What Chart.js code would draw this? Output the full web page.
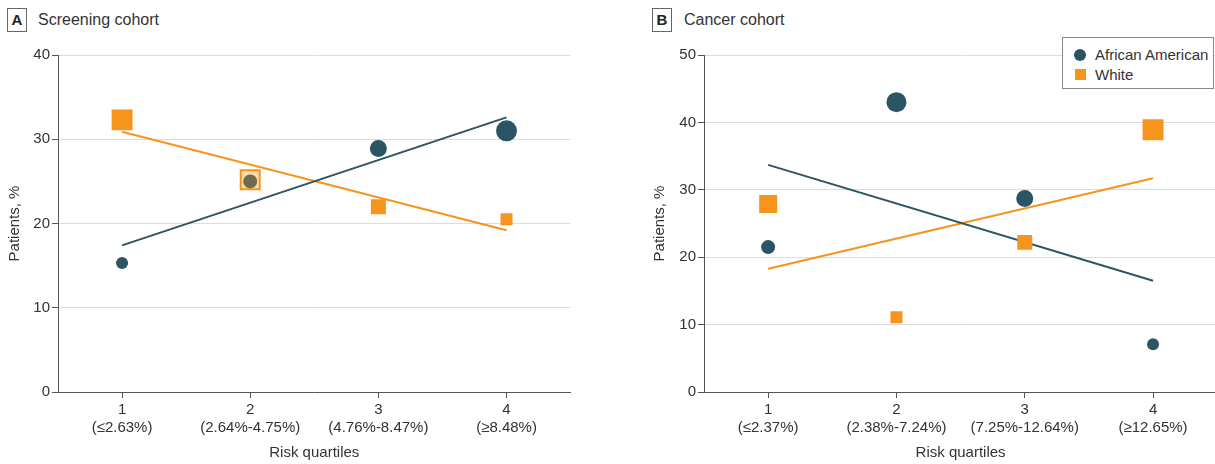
<!DOCTYPE html>
<html><head><meta charset="utf-8">
<script src="https://cdn.jsdelivr.net/npm/chart.js@4"></script>
<style>
body{margin:0;width:1215px;height:464px;background:#fff;position:relative;overflow:hidden;font-family:"Liberation Sans",Arial,sans-serif;color:#333}
.wrap{position:absolute;top:0;height:464px}
.plabel{position:absolute;top:8px;width:18px;height:22px;border:1px solid #666;font-weight:bold;font-size:15px;line-height:22px;text-align:center;color:#222}
.ptitle{position:absolute;top:9px;font-size:16px;line-height:22px;color:#333}
.legend{position:absolute;left:1062px;top:37px;width:152px;height:52px;border:1px solid #888;background:#fff;box-sizing:border-box}
.legend .it{position:absolute;left:32px;font-size:15px;line-height:18px;color:#333;white-space:nowrap}
.legend .dot{position:absolute;left:11px;top:11px;width:12px;height:12px;border-radius:50%;background:#2b5565}
.legend .sq{position:absolute;left:12px;top:31px;width:11px;height:11px;background:#f7941d}
</style></head>
<body>
<div class="plabel" style="left:7px">A</div>
<div class="ptitle" style="left:38px">Screening cohort</div>
<div class="plabel" style="left:652px">B</div>
<div class="ptitle" style="left:684px">Cancer cohort</div>
<div class="wrap" style="left:0;width:586px"><canvas id="cA"></canvas></div>
<div class="wrap" style="left:645px;width:587px"><canvas id="cB"></canvas></div>
<div class="legend">
  <div class="dot"></div><div class="it" style="top:8px">African American</div>
  <div class="sq"></div><div class="it" style="top:28px">White</div>
</div>
<script>
// ---- data ----
const quartiles = [1, 2, 3, 4];
const screeningTickLabels = [['1','(≤2.63%)'],['2','(2.64%-4.75%)'],['3','(4.76%-8.47%)'],['4','(≥8.48%)']];
const cancerTickLabels = [['1','(≤2.37%)'],['2','(2.38%-7.24%)'],['3','(7.25%-12.64%)'],['4','(≥12.65%)']];

const screeningAA = [15.3, 25.0, 28.9, 31.0];
const screeningWhite = [32.3, 25.2, 22.0, 20.5];
const screeningAATrend = [17.4, 32.6];
const screeningWhiteTrend = [30.9, 19.2];

const cancerAA = [21.5, 43.0, 28.7, 7.1];
const cancerWhite = [27.9, 11.1, 22.2, 38.9];
const cancerAATrend = [33.7, 16.5];
const cancerWhiteTrend = [18.3, 31.7];

// marker radii
const screeningAARadius = [6, 7, 8.5, 10.5];
const screeningWhiteRadius = [14.8, 13.4, 10.6, 8.5];
const cancerAARadius = [7, 10, 8.5, 6];
const cancerWhiteRadius = [12.7, 8.5, 10.6, 14.8];

// ---- styling ----
const TEAL = '#2b5565', ORANGE = '#f7941d', ORANGE_LIGHT = 'rgba(247,148,29,0.35)';
Chart.defaults.font.family = "'Liberation Sans', Arial, sans-serif";
Chart.defaults.font.size = 15;
Chart.defaults.color = '#333';

function pts(vals){ return quartiles.map((q,i)=>({x:q, y:vals[i]})); }
function trend(vals){ return [{x:quartiles[0], y:vals[0]}, {x:quartiles[quartiles.length-1], y:vals[1]}]; }

function makeChart(id, opt){
  return new Chart(document.getElementById(id), {
    type: 'scatter',
    data: { datasets: [
      { label:'White', data: pts(opt.white), pointStyle:'rect', pointRadius: opt.whiteR,
        backgroundColor: opt.whiteFill, borderColor: ORANGE, pointBorderWidth: opt.whiteBW, order: 0 },
      { label:'African American', data: pts(opt.aa), pointStyle:'circle', pointRadius: opt.aaR,
        backgroundColor: TEAL, borderColor: TEAL, pointBorderWidth: 0, order: 1 },
      { type:'line', data: trend(opt.aaTrend), borderColor: TEAL, borderWidth: 2, pointRadius: 0, order: 2 },
      { type:'line', data: trend(opt.whiteTrend), borderColor: ORANGE, borderWidth: 2, pointRadius: 0, order: 2 }
    ]},
    options: {
      responsive: true, maintainAspectRatio: false, animation: false,
      layout: { padding: { left: 0, right: 0, top: 55, bottom: 0 } },
      plugins: { legend: { display: false }, tooltip: { enabled: false } },
      scales: {
        x: {
          type: 'linear', min: 0.5, max: 4.5,
          afterBuildTicks: s => { s.ticks = quartiles.map(v => ({ value: v })); },
          afterFit: s => { s.height = 72; },
          ticks: { padding: 3, color: '#333', callback: v => opt.labels[quartiles.indexOf(v)] },
          grid: { drawOnChartArea: false, tickLength: 6, color: '#555' },
          border: { color: '#555', width: 1 },
          title: { display: true, text: 'Risk quartiles', color: '#333', padding: { top: 0, bottom: 2 } }
        },
        y: {
          min: 0, max: opt.ymax,
          afterFit: s => { s.width = opt.yWidth; },
          ticks: { stepSize: 10, padding: 2, color: '#333' },
          grid: { color: c => c.tick && c.tick.value === 0 ? 'rgba(0,0,0,0)' : '#dcdcdc', tickColor: '#555', tickLength: 6 },
          border: { color: '#555', width: 1 },
          title: { display: true, text: 'Patients, %', color: '#333', padding: { top: 6, bottom: 0 } }
        }
      }
    }
  });
}

makeChart('cA', { aa: screeningAA, white: screeningWhite, aaTrend: screeningAATrend, whiteTrend: screeningWhiteTrend,
  aaR: screeningAARadius, whiteR: screeningWhiteRadius,
  whiteFill: [ORANGE, ORANGE_LIGHT, ORANGE, ORANGE], whiteBW: [0, 2, 0, 0],
  labels: screeningTickLabels, ymax: 40, yWidth: 58 });
makeChart('cB', { aa: cancerAA, white: cancerWhite, aaTrend: cancerAATrend, whiteTrend: cancerWhiteTrend,
  aaR: cancerAARadius, whiteR: cancerWhiteRadius,
  whiteFill: [ORANGE, ORANGE, ORANGE, ORANGE], whiteBW: [0, 0, 0, 0],
  labels: cancerTickLabels, ymax: 50, yWidth: 59 });
</script>
</body></html>
